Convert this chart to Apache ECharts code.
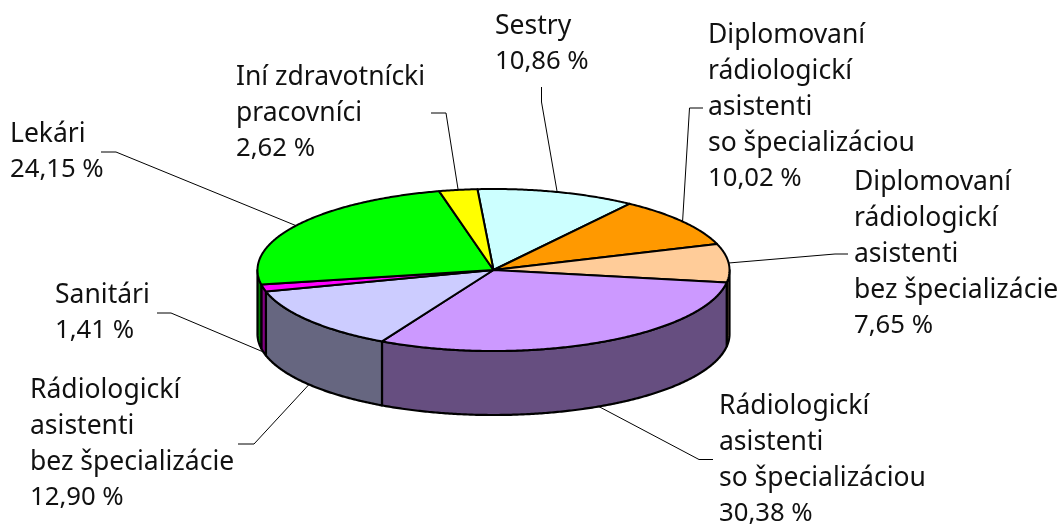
<!DOCTYPE html>
<html>
<head>
<meta charset="utf-8">
<style>html,body{margin:0;padding:0;background:#fff}#c{width:1062px;height:527px}</style>
<script src="https://cdn.jsdelivr.net/npm/echarts@6/dist/echarts.min.js"></script>
</head>
<body>
<div id="c"></div>
<script>
const categories = [
  'Sestry',
  'Diplomovaní\nrádiologickí\nasistenti\nso špecializáciou',
  'Diplomovaní\nrádiologickí\nasistenti\nbez špecializácie',
  'Rádiologickí\nasistenti\nso špecializáciou',
  'Rádiologickí\nasistenti\nbez špecializácie',
  'Sanitári',
  'Lekári',
  'Iní zdravotnícki\npracovníci'
];
const values = [10.86, 10.02, 7.65, 30.38, 12.90, 1.41, 24.15, 2.62];
const topColors = ['#CCFFFF', '#FF9900', '#FFCC99', '#CC99FF', '#CCCCFF', '#FF00FF', '#00FF00', '#FFFF00'];
const sideColors = ['#668080', '#804D00', '#80664D', '#664E80', '#666680', '#800080', '#008000', '#808000'];

// layout of the 3D pie
const cx = 493.5, cy = 270, rx = 236, ry = 81, depth = 64, startDeg = -3.9;
// label layout: text left, first line centre; leader start x,y and bend x,y
const labelX = [495, 708, 854, 719, 30, 55, 10, 236];
const labelY = [26, 35, 182, 406, 390, 295, 134, 77];
const leaderFrom = [[541.5, 87], [703, 108], [848, 254], [713, 459.5], [238, 444], [157, 313], [101, 152], [431, 113]];
const leaderBend = [[541.5, 102], [689.5, 108], [835, 254], [699, 459.5], [254, 444], [171, 313], [116, 152], [446, 113]];
const nameFont = '26.5px "Noto Sans"', valueFont = '25.7px "Noto Sans"', lineH = 36;

const total = values.reduce((a, b) => a + b, 0);
const bounds = [startDeg];
values.forEach(v => bounds.push(bounds[bounds.length - 1] + v / total * 360));
const pt = (deg, dy) => {
  const r = deg * Math.PI / 180;
  return [cx + rx * Math.sin(r), cy - ry * Math.cos(r) + (dy || 0)];
};
const arc = (a, b, dy) => {
  const n = Math.max(2, Math.ceil(Math.abs(b - a) * 2)), out = [];
  for (let k = 0; k <= n; k++) out.push(pt(a + (b - a) * k / n, dy));
  return out;
};

function renderSide(params) {
  const i = params.dataIndex;
  const a = Math.max(bounds[i], 90), b = Math.min(bounds[i + 1], 270);
  if (b <= a) return { type: 'group', children: [] };
  return {
    type: 'polygon',
    shape: { points: arc(a, b, 0).concat(arc(b, a, depth)) },
    style: { fill: sideColors[i], stroke: '#000', lineWidth: 2.2, lineJoin: 'round' }
  };
}
function renderTop(params) {
  const i = params.dataIndex;
  return {
    type: 'polygon',
    shape: { points: [[cx, cy]].concat(arc(bounds[i], bounds[i + 1], 0)) },
    style: { fill: topColors[i], stroke: '#000', lineWidth: 2, lineJoin: 'round' }
  };
}
function renderLabel(params) {
  const i = params.dataIndex;
  const mid = (bounds[i] + bounds[i + 1]) / 2;
  const m = ((mid % 360) + 360) % 360;
  const onSide = m > 135 && m < 270;
  const end = pt(mid, onSide ? depth : 0);
  const nLines = categories[i].split('\n').length;
  return {
    type: 'group',
    children: [
      {
        type: 'polyline',
        shape: { points: [leaderFrom[i], leaderBend[i], end] },
        style: { fill: null, stroke: '#000', lineWidth: 1 }
      },
      {
        type: 'text',
        style: {
          text: categories[i], x: labelX[i], y: labelY[i] - lineH / 2,
          fill: '#111', font: nameFont, lineHeight: lineH,
          align: 'left', verticalAlign: 'top'
        }
      },
      {
        type: 'text',
        style: {
          text: values[i].toFixed(2).replace('.', ',') + ' %',
          x: labelX[i], y: labelY[i] - lineH / 2 + nLines * lineH,
          fill: '#111', font: valueFont, lineHeight: lineH,
          align: 'left', verticalAlign: 'top'
        }
      }
    ]
  };
}

const chart = echarts.init(document.getElementById('c'), null, { renderer: 'canvas' });
const data = values.map((v, i) => ({ name: categories[i], value: v }));
chart.setOption({
  animation: false,
  backgroundColor: '#fff',
  series: [
    { type: 'custom', coordinateSystem: 'none', silent: true, z: 3, renderItem: renderLabel, data },
    { type: 'custom', coordinateSystem: 'none', silent: true, z: 1, renderItem: renderSide, data },
    { type: 'custom', coordinateSystem: 'none', silent: true, z: 2, renderItem: renderTop, data }
  ]
});
</script>
</body>
</html>
